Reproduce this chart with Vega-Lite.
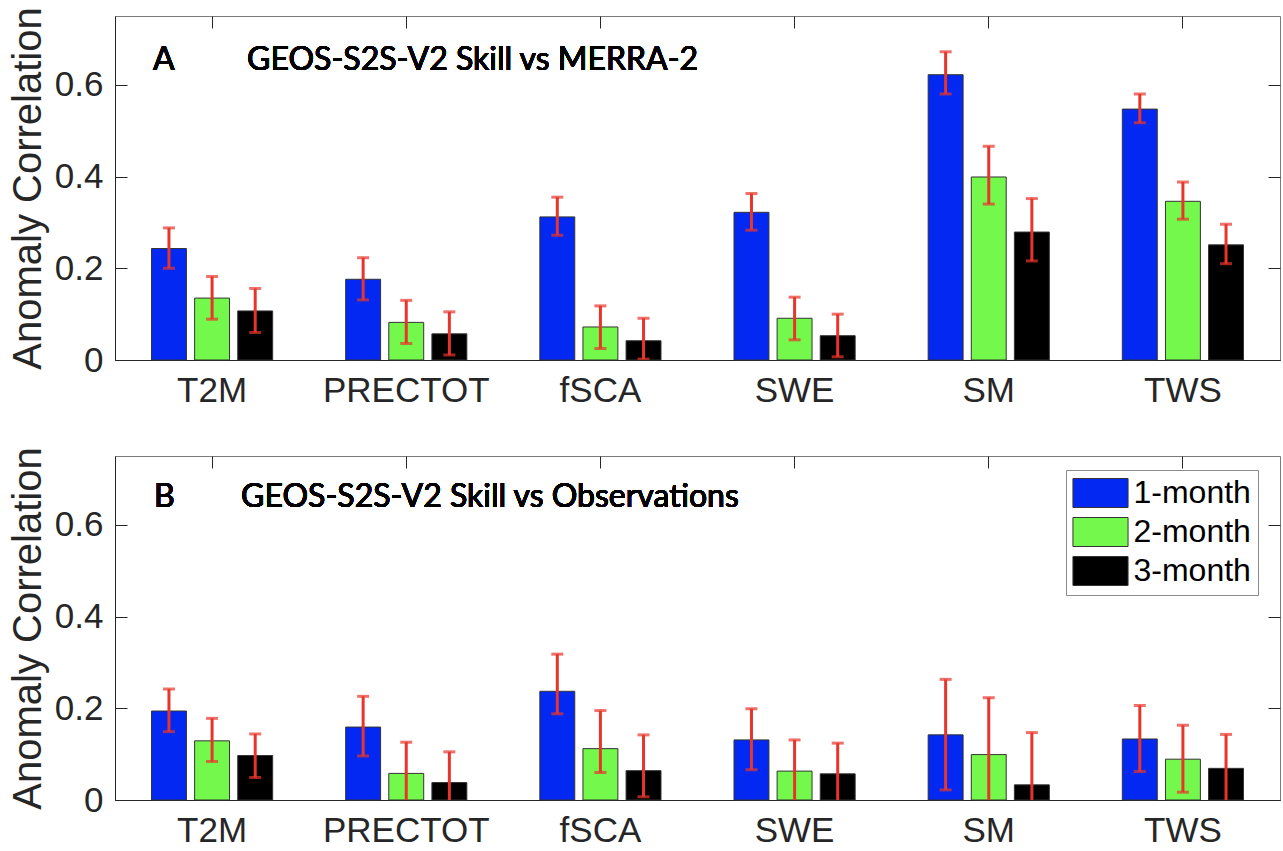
{
  "$schema": "https://vega.github.io/schema/vega-lite/v6.json",
  "padding": {"left": 7, "top": 6, "right": 2, "bottom": 0},
  "background": "white",
  "spacing": 96,
  "bounds": "flush",
  "data": {
    "values": [
      {"panel": "A", "var": "T2M", "lead": "1-month", "r": 0.243, "lo": 0.200, "hi": 0.288},
      {"panel": "A", "var": "T2M", "lead": "2-month", "r": 0.135, "lo": 0.089, "hi": 0.182},
      {"panel": "A", "var": "T2M", "lead": "3-month", "r": 0.107, "lo": 0.060, "hi": 0.156},
      {"panel": "A", "var": "PRECTOT", "lead": "1-month", "r": 0.176, "lo": 0.131, "hi": 0.223},
      {"panel": "A", "var": "PRECTOT", "lead": "2-month", "r": 0.082, "lo": 0.036, "hi": 0.130},
      {"panel": "A", "var": "PRECTOT", "lead": "3-month", "r": 0.057, "lo": 0.011, "hi": 0.105},
      {"panel": "A", "var": "fSCA", "lead": "1-month", "r": 0.312, "lo": 0.272, "hi": 0.355},
      {"panel": "A", "var": "fSCA", "lead": "2-month", "r": 0.072, "lo": 0.025, "hi": 0.118},
      {"panel": "A", "var": "fSCA", "lead": "3-month", "r": 0.042, "lo": 0.002, "hi": 0.091},
      {"panel": "A", "var": "SWE", "lead": "1-month", "r": 0.322, "lo": 0.283, "hi": 0.363},
      {"panel": "A", "var": "SWE", "lead": "2-month", "r": 0.091, "lo": 0.044, "hi": 0.137},
      {"panel": "A", "var": "SWE", "lead": "3-month", "r": 0.053, "lo": 0.007, "hi": 0.100},
      {"panel": "A", "var": "SM", "lead": "1-month", "r": 0.622, "lo": 0.580, "hi": 0.672},
      {"panel": "A", "var": "SM", "lead": "2-month", "r": 0.399, "lo": 0.340, "hi": 0.466},
      {"panel": "A", "var": "SM", "lead": "3-month", "r": 0.279, "lo": 0.216, "hi": 0.352},
      {"panel": "A", "var": "TWS", "lead": "1-month", "r": 0.547, "lo": 0.517, "hi": 0.580},
      {"panel": "A", "var": "TWS", "lead": "2-month", "r": 0.346, "lo": 0.307, "hi": 0.388},
      {"panel": "A", "var": "TWS", "lead": "3-month", "r": 0.251, "lo": 0.210, "hi": 0.296},
      {"panel": "B", "var": "T2M", "lead": "1-month", "r": 0.194, "lo": 0.149, "hi": 0.242},
      {"panel": "B", "var": "T2M", "lead": "2-month", "r": 0.129, "lo": 0.084, "hi": 0.178},
      {"panel": "B", "var": "T2M", "lead": "3-month", "r": 0.097, "lo": 0.049, "hi": 0.144},
      {"panel": "B", "var": "PRECTOT", "lead": "1-month", "r": 0.159, "lo": 0.096, "hi": 0.226},
      {"panel": "B", "var": "PRECTOT", "lead": "2-month", "r": 0.058, "lo": -0.010, "hi": 0.126},
      {"panel": "B", "var": "PRECTOT", "lead": "3-month", "r": 0.038, "lo": -0.029, "hi": 0.105},
      {"panel": "B", "var": "fSCA", "lead": "1-month", "r": 0.237, "lo": 0.188, "hi": 0.318},
      {"panel": "B", "var": "fSCA", "lead": "2-month", "r": 0.112, "lo": 0.060, "hi": 0.195},
      {"panel": "B", "var": "fSCA", "lead": "3-month", "r": 0.064, "lo": 0.007, "hi": 0.142},
      {"panel": "B", "var": "SWE", "lead": "1-month", "r": 0.131, "lo": 0.066, "hi": 0.199},
      {"panel": "B", "var": "SWE", "lead": "2-month", "r": 0.063, "lo": -0.005, "hi": 0.131},
      {"panel": "B", "var": "SWE", "lead": "3-month", "r": 0.057, "lo": -0.010, "hi": 0.124},
      {"panel": "B", "var": "SM", "lead": "1-month", "r": 0.142, "lo": 0.022, "hi": 0.263},
      {"panel": "B", "var": "SM", "lead": "2-month", "r": 0.099, "lo": -0.025, "hi": 0.223},
      {"panel": "B", "var": "SM", "lead": "3-month", "r": 0.033, "lo": -0.081, "hi": 0.147},
      {"panel": "B", "var": "TWS", "lead": "1-month", "r": 0.133, "lo": 0.062, "hi": 0.206},
      {"panel": "B", "var": "TWS", "lead": "2-month", "r": 0.089, "lo": 0.017, "hi": 0.163},
      {"panel": "B", "var": "TWS", "lead": "3-month", "r": 0.069, "lo": -0.005, "hi": 0.143}
    ]
  },
  "resolve": {"legend": {"color": "independent"}},
  "vconcat": [
    {
      "width": 1165,
      "height": 344,
      "transform": [{"filter": "datum.panel === 'A'"}],
      "layer": [
        {
          "mark": {"type": "bar", "stroke": "#333333", "strokeWidth": 1},
          "encoding": {
            "x": {"field": "var", "type": "nominal", "sort": ["T2M", "PRECTOT", "fSCA", "SWE", "SM", "TWS"],
                  "scale": {"paddingInner": 0.376, "paddingOuter": 0.188},
                  "axis": {"orient": "bottom", "title": null, "labelAngle": 0, "tickSize": -12, "labelPadding": 25}},
            "xOffset": {"field": "lead", "type": "nominal", "sort": ["1-month", "2-month", "3-month"], "scale": {"paddingInner": 0.19, "paddingOuter": 0}},
            "y": {"field": "r", "type": "quantitative", "scale": {"domain": [0, 0.75], "nice": false},
                  "axis": {"orient": "left", "title": "Anomaly Correlation", "values": [0, 0.2, 0.4, 0.6], "format": "~g", "tickSize": -12, "labelPadding": 24, "titlePadding": 6}},
            "color": {"field": "lead", "type": "nominal", "scale": {"domain": ["1-month", "2-month", "3-month"], "range": ["#0328F2", "#75F84C", "#000000"]}, "legend": null}
          }
        },
        {
          "mark": {"type": "rule", "color": "#E8352B", "strokeWidth": 3, "clip": true},
          "encoding": {
            "x": {"field": "var", "type": "nominal", "sort": ["T2M", "PRECTOT", "fSCA", "SWE", "SM", "TWS"],
                  "axis": {"orient": "top", "title": null, "labels": false, "domain": false, "tickSize": -12}},
            "xOffset": {"field": "lead", "type": "nominal", "sort": ["1-month", "2-month", "3-month"]},
            "y": {"field": "lo", "type": "quantitative",
                  "axis": {"orient": "right", "title": null, "labels": false, "domain": false, "values": [0, 0.2, 0.4, 0.6], "tickSize": -12}},
            "y2": {"field": "hi"}
          }
        },
        {
          "mark": {"type": "tick", "color": "#E8352B", "thickness": 3, "size": 12, "orient": "horizontal", "clip": true},
          "encoding": {
            "x": {"field": "var", "type": "nominal", "sort": ["T2M", "PRECTOT", "fSCA", "SWE", "SM", "TWS"], "axis": null},
            "xOffset": {"field": "lead", "type": "nominal", "sort": ["1-month", "2-month", "3-month"]},
            "y": {"field": "lo", "type": "quantitative", "axis": null}
          }
        },
        {
          "mark": {"type": "tick", "color": "#E8352B", "thickness": 3, "size": 12, "orient": "horizontal", "clip": true},
          "encoding": {
            "x": {"field": "var", "type": "nominal", "sort": ["T2M", "PRECTOT", "fSCA", "SWE", "SM", "TWS"], "axis": null},
            "xOffset": {"field": "lead", "type": "nominal", "sort": ["1-month", "2-month", "3-month"]},
            "y": {"field": "hi", "type": "quantitative", "axis": null}
          }
        },
        {
          "mark": {"type": "text", "text": "A", "font": "Lato", "fontSize": 32, "fontWeight": "normal", "align": "left", "baseline": "middle", "dx": -59, "color": "#000000"},
          "encoding": {
            "x": {"datum": "T2M", "type": "nominal", "axis": null},
            "y": {"datum": 0.655, "type": "quantitative", "axis": null}
          }
        },
        {
          "mark": {"type": "text", "text": "GEOS-S2S-V2 Skill vs MERRA-2", "font": "Lato", "fontSize": 32, "fontWeight": "normal", "align": "left", "baseline": "middle", "dx": 35, "color": "#000000"},
          "encoding": {
            "x": {"datum": "T2M", "type": "nominal", "axis": null},
            "y": {"datum": 0.655, "type": "quantitative", "axis": null}
          }
        }
      ],
      "resolve": {"axis": {"x": "independent", "y": "independent"}}
    },
    {
      "width": 1165,
      "height": 344,
      "transform": [{"filter": "datum.panel === 'B'"}],
      "layer": [
        {
          "mark": {"type": "bar", "stroke": "#333333", "strokeWidth": 1},
          "encoding": {
            "x": {"field": "var", "type": "nominal", "sort": ["T2M", "PRECTOT", "fSCA", "SWE", "SM", "TWS"],
                  "scale": {"paddingInner": 0.376, "paddingOuter": 0.188},
                  "axis": {"orient": "bottom", "title": null, "labelAngle": 0, "tickSize": -12, "labelPadding": 25}},
            "xOffset": {"field": "lead", "type": "nominal", "sort": ["1-month", "2-month", "3-month"], "scale": {"paddingInner": 0.19, "paddingOuter": 0}},
            "y": {"field": "r", "type": "quantitative", "scale": {"domain": [0, 0.75], "nice": false},
                  "axis": {"orient": "left", "title": "Anomaly Correlation", "values": [0, 0.2, 0.4, 0.6], "format": "~g", "tickSize": -12, "labelPadding": 24, "titlePadding": 6}},
            "color": {"field": "lead", "type": "nominal", "title": null,
                      "scale": {"domain": ["1-month", "2-month", "3-month"], "range": ["#0328F2", "#75F84C", "#000000"]},
                      "legend": {"orient": "none", "legendX": 951, "legendY": 14, "title": null,
                                 "strokeColor": "#8a8a8a", "fillColor": "#ffffff", "padding": 7,
                                 "symbolType": "M-1.9,-1H1.9V1H-1.9Z", "symbolSize": 841, "symbolOffset": 11.5,
                                 "symbolStrokeColor": "#333333", "symbolStrokeWidth": 1, "symbolOpacity": 1,
                                 "labelFont": "Liberation Sans", "labelFontSize": 32, "labelColor": "#000000",
                                 "labelOffset": 17, "rowPadding": 5}}
          }
        },
        {
          "mark": {"type": "rule", "color": "#E8352B", "strokeWidth": 3, "clip": true},
          "encoding": {
            "x": {"field": "var", "type": "nominal", "sort": ["T2M", "PRECTOT", "fSCA", "SWE", "SM", "TWS"],
                  "axis": {"orient": "top", "title": null, "labels": false, "domain": false, "tickSize": -12}},
            "xOffset": {"field": "lead", "type": "nominal", "sort": ["1-month", "2-month", "3-month"]},
            "y": {"field": "lo", "type": "quantitative",
                  "axis": {"orient": "right", "title": null, "labels": false, "domain": false, "values": [0, 0.2, 0.4, 0.6], "tickSize": -12}},
            "y2": {"field": "hi"}
          }
        },
        {
          "mark": {"type": "tick", "color": "#E8352B", "thickness": 3, "size": 12, "orient": "horizontal", "clip": true},
          "encoding": {
            "x": {"field": "var", "type": "nominal", "sort": ["T2M", "PRECTOT", "fSCA", "SWE", "SM", "TWS"], "axis": null},
            "xOffset": {"field": "lead", "type": "nominal", "sort": ["1-month", "2-month", "3-month"]},
            "y": {"field": "lo", "type": "quantitative", "axis": null}
          }
        },
        {
          "mark": {"type": "tick", "color": "#E8352B", "thickness": 3, "size": 12, "orient": "horizontal", "clip": true},
          "encoding": {
            "x": {"field": "var", "type": "nominal", "sort": ["T2M", "PRECTOT", "fSCA", "SWE", "SM", "TWS"], "axis": null},
            "xOffset": {"field": "lead", "type": "nominal", "sort": ["1-month", "2-month", "3-month"]},
            "y": {"field": "hi", "type": "quantitative", "axis": null}
          }
        },
        {
          "mark": {"type": "text", "text": "B", "font": "Lato", "fontSize": 32, "fontWeight": "normal", "align": "left", "baseline": "middle", "dx": -58, "color": "#000000"},
          "encoding": {
            "x": {"datum": "T2M", "type": "nominal", "axis": null},
            "y": {"datum": 0.66, "type": "quantitative", "axis": null}
          }
        },
        {
          "mark": {"type": "text", "text": "GEOS-S2S-V2 Skill vs Observations", "font": "Lato", "fontSize": 32, "fontWeight": "normal", "align": "left", "baseline": "middle", "dx": 29, "color": "#000000"},
          "encoding": {
            "x": {"datum": "T2M", "type": "nominal", "axis": null},
            "y": {"datum": 0.66, "type": "quantitative", "axis": null}
          }
        }
      ],
      "resolve": {"axis": {"x": "independent", "y": "independent"}}
    }
  ],
  "config": {
    "view": {"stroke": "#7a7a7a", "strokeWidth": 1},
    "axis": {
      "grid": false,
      "labelFont": "Liberation Sans", "labelFontSize": 35, "labelColor": "#262626",
      "titleFont": "Liberation Sans", "titleFontSize": 40, "titleFontWeight": "normal", "titleColor": "#262626",
      "tickColor": "#262626", "tickWidth": 1, "domainColor": "#262626", "domainWidth": 1, "zindex": 1
    }
  }
}
